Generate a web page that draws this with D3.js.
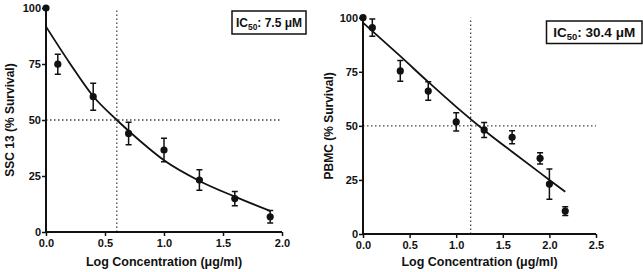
<!DOCTYPE html>
<html><head><meta charset="utf-8">
<script src="https://cdn.jsdelivr.net/npm/d3@7"></script>
<style>body{margin:0;background:#fff}svg{display:block}text{font-family:Arial,"Liberation Sans",sans-serif;font-weight:bold;fill:#111}</style>
</head><body><svg id="c" width="643" height="272"></svg>
<script>
// Panel A: SSC 13
const sscX = [0, 0.1, 0.4, 0.7, 1.0, 1.3, 1.6, 1.9];
const sscY = [100, 74.9, 60.4, 44, 36.6, 23.2, 14.9, 6.8];
const sscErr = [0, 4.5, 6, 5, 5.2, 4.6, 3.2, 2.8];
const sscFitX = [0, 0.2, 0.4, 0.6, 0.8, 1.0, 1.3, 1.6, 1.9];
const sscFitY = [91.7, 75.5, 60.6, 50, 40.5, 32, 22.8, 15.8, 9.4];
const sscIC50Log = 0.6;
const sscXTicks = [0, 0.5, 1.0, 1.5, 2.0];
// Panel B: PBMC
const pbmcX = [0, 0.1, 0.4, 0.7, 1.0, 1.3, 1.6, 1.9, 2.0, 2.17];
const pbmcY = [100, 95.4, 75.4, 66.1, 51.8, 48.1, 44.7, 35, 23.1, 10.6];
const pbmcErr = [0, 4, 4.8, 4.3, 4.2, 3.5, 3, 2.6, 7, 2];
const pbmcFitX = [0, 0.4, 0.7, 1.0, 1.3, 1.6, 2.0, 2.17];
const pbmcFitY = [97.7, 82.2, 70.3, 58.8, 48, 38, 25, 19.5];
const pbmcIC50Log = 1.155;
const pbmcXTicks = [0, 0.5, 1.0, 1.5, 2.0, 2.5];
const yTicks = [0, 25, 50, 75, 100];

const svg = d3.select("#c");

function panel(o){
  const g = svg.append("g");
  const x = d3.scaleLinear().domain([0, o.xMax]).range([o.x0, o.x1]);
  const y = d3.scaleLinear().domain([0, 100]).range([o.y0, o.y1]);
  // dotted reference lines
  g.append("line").attr("x1", x(0)).attr("x2", x(o.xMax)).attr("y1", y(50)).attr("y2", y(50))
    .attr("stroke", "#444").attr("stroke-width", 1.3).attr("stroke-dasharray", "1.5,2.5");
  g.append("line").attr("x1", x(o.ic)).attr("x2", x(o.ic)).attr("y1", y(0)).attr("y2", y(100))
    .attr("stroke", "#444").attr("stroke-width", 1.3).attr("stroke-dasharray", "1.5,2.5");
  // axes
  const ya = g.append("g").attr("transform", `translate(${x(0)},0)`)
    .call(d3.axisLeft(y).tickValues(yTicks).tickSize(4).tickPadding(1).tickFormat(d3.format("d")));
  const xa = g.append("g").attr("transform", `translate(0,${y(0)})`)
    .call(d3.axisBottom(x).tickValues(o.xTicks).tickSize(4).tickPadding(3).tickFormat(d3.format(".1f")));
  [ya, xa].forEach(a => {
    a.select(".domain").attr("stroke", "#111").attr("stroke-width", 2);
    a.selectAll(".tick line").attr("stroke", "#111").attr("stroke-width", 1.5);
    a.selectAll("text").attr("font-size", 11).attr("font-family", "Arial,'Liberation Sans',sans-serif").attr("font-weight", "bold").attr("fill", "#111");
  });
  ya.select(".domain").attr("d", `M0,${y(0)}V${y(100)}`);
  xa.select(".domain").attr("d", `M${x(0)},0H${x(o.xMax)}`);
  // fit curve
  const fit = o.fitX.map((v, i) => [v, o.fitY[i]]);
  g.append("path").datum(fit).attr("fill", "none").attr("stroke", "#111").attr("stroke-width", 1.8)
    .attr("d", d3.line().x(d => x(d[0])).y(d => y(d[1])).curve(d3.curveMonotoneX));
  // error bars and points
  const pts = o.px.map((v, i) => ({x: v, y: o.py[i], e: o.pe[i]}));
  pts.filter(d => d.e > 0).forEach(d => {
    g.append("path").attr("fill", "none").attr("stroke", "#111").attr("stroke-width", 1.5)
      .attr("d", `M${x(d.x)},${y(d.y + d.e)}V${y(d.y - d.e)}M${x(d.x) - 3},${y(d.y + d.e)}H${x(d.x) + 3}M${x(d.x) - 3},${y(d.y - d.e)}H${x(d.x) + 3}`);
  });
  g.selectAll("circle.p").data(pts).enter().append("circle")
    .attr("cx", d => x(d.x)).attr("cy", d => y(d.y)).attr("r", 3.6).attr("fill", "#111");
  // titles
  g.append("text").attr("x", (x(0) + x(o.xMax)) / 2).attr("y", 266).attr("text-anchor", "middle")
    .attr("font-size", 12.5).text("Log Concentration (μg/ml)");
  g.append("text").attr("transform", `translate(${o.ytx},${(y(0) + y(100)) / 2}) rotate(-90)`)
    .attr("text-anchor", "middle").attr("font-size", 12).text(o.yTitle);
  // IC50 box
  g.append("rect").attr("x", o.box[0]).attr("y", o.box[1]).attr("width", o.box[2]).attr("height", o.box[3])
    .attr("fill", "#fff").attr("stroke", "#111").attr("stroke-width", 1.5);
  const t = g.append("text").attr("x", o.box[0] + o.box[2] / 2).attr("y", o.box[1] + o.box[3] / 2 + o.fs * 0.36)
    .attr("text-anchor", "middle").attr("font-size", o.fs);
  t.append("tspan").text("IC");
  t.append("tspan").attr("font-size", o.fs * 0.7).attr("dy", 3).text("50");
  t.append("tspan").attr("dy", -3).text(": " + o.icLabel);
}

panel({x0: 46, x1: 282, y0: 232, y1: 8, xMax: 2.0, xTicks: sscXTicks, ic: sscIC50Log,
  px: sscX, py: sscY, pe: sscErr, fitX: sscFitX, fitY: sscFitY, yTitle: "SSC 13 (% Survival)", ytx: 14,
  box: [232, 11, 74, 23], fs: 12, icLabel: "7.5 μM"});
panel({x0: 363, x1: 596, y0: 234, y1: 17.7, xMax: 2.5, xTicks: pbmcXTicks, ic: pbmcIC50Log,
  px: pbmcX, py: pbmcY, pe: pbmcErr, fitX: pbmcFitX, fitY: pbmcFitY, yTitle: "PBMC (% Survival)", ytx: 333,
  box: [546.5, 21, 95.5, 22.5], fs: 13.5, icLabel: "30.4 μM"});
</script></body></html>
